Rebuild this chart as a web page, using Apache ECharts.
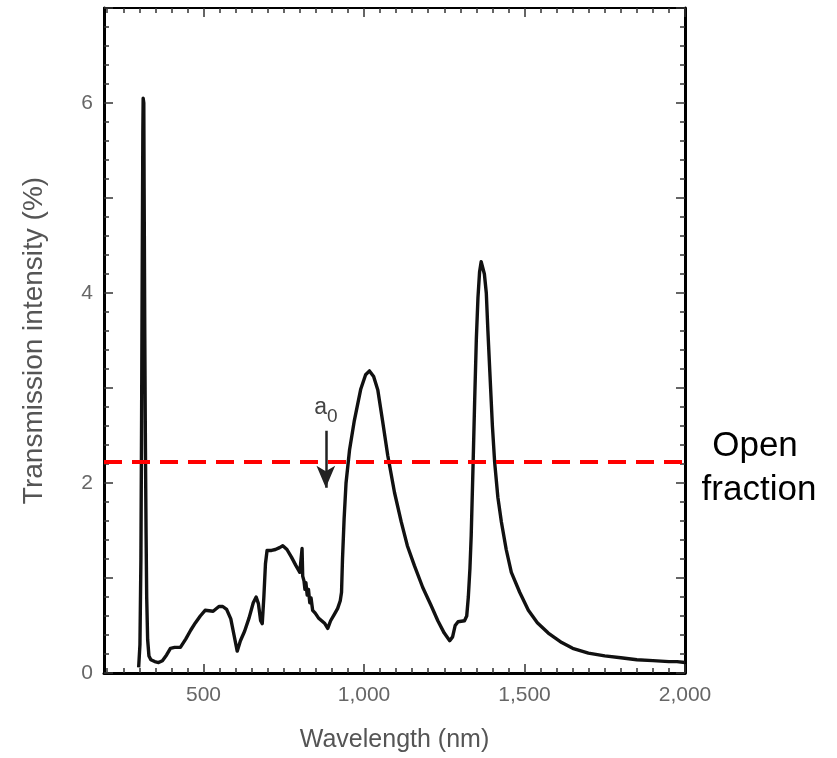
<!DOCTYPE html>
<html>
<head>
<meta charset="utf-8">
<title>Transmission spectrum</title>
<script src="https://cdn.jsdelivr.net/npm/echarts@6/dist/echarts.min.js"></script>
<style>
  html, body { margin: 0; padding: 0; background: #fff; }
  #chart { width: 837px; height: 758px; }
</style>
</head>
<body>
<div id="chart"></div>
<script>
// Transmission spectrum: wavelength (nm) vs transmission intensity (%)
const wavelength = [
  298, 302, 305, 307, 309, 311, 312, 314, 315, 317, 319, 321, 323, 326, 330, 336, 348, 360,
  372, 385, 397, 410, 428, 445, 460, 475, 490, 505, 530, 548, 560, 572, 585, 595, 605, 615,
  628, 642, 655, 664, 671, 678, 683, 688, 693, 698, 712, 724, 737, 747, 760, 774, 788, 800,
  806, 807, 809, 813, 816, 819, 823, 827, 831, 835, 840, 848, 858, 868, 878, 887, 896, 908,
  918, 926, 930, 933, 938, 944, 955, 970, 990, 1005, 1017, 1030, 1043, 1058, 1074, 1095,
  1116, 1135, 1157, 1183, 1209, 1230, 1250, 1267, 1276, 1284, 1293, 1313, 1320, 1325, 1330,
  1334, 1340, 1345, 1350, 1355, 1360, 1365, 1370, 1375, 1381, 1386, 1392, 1400, 1407, 1417,
  1428, 1443, 1459, 1485, 1512, 1540, 1574, 1616, 1650, 1699, 1750, 1800, 1850, 1900, 1950,
  1975, 2000
];
const intensity = [
  0.06, 0.30, 1.20, 2.60, 4.20, 5.70, 6.05, 6.00, 5.10, 3.60, 2.40, 1.50, 0.80, 0.35, 0.18, 0.14, 0.12, 0.11,
  0.13, 0.19, 0.26, 0.27, 0.27, 0.36, 0.45, 0.53, 0.60, 0.66, 0.65, 0.70, 0.70, 0.67, 0.57, 0.40, 0.23, 0.34,
  0.44, 0.58, 0.74, 0.80, 0.73, 0.55, 0.52, 0.80, 1.15, 1.29, 1.29, 1.30, 1.32, 1.34, 1.30, 1.22, 1.13, 1.06,
  1.04, 1.31, 1.02, 0.97, 0.88, 0.95, 0.82, 0.88, 0.74, 0.79, 0.66, 0.63, 0.58, 0.55, 0.52, 0.47, 0.55, 0.62,
  0.68, 0.76, 0.85, 1.20, 1.62, 2.00, 2.35, 2.66, 2.99, 3.14, 3.18, 3.12, 2.98, 2.65, 2.29, 1.90,
  1.59, 1.34, 1.13, 0.90, 0.71, 0.55, 0.42, 0.34, 0.38, 0.50, 0.54, 0.55, 0.60, 0.80, 1.10,
  1.45, 2.22, 2.90, 3.52, 3.95, 4.22, 4.33, 4.32, 4.20, 4.00, 3.60, 3.17, 2.60, 2.22, 1.85,
  1.59, 1.30, 1.06, 0.85, 0.66, 0.53, 0.42, 0.32, 0.26, 0.21, 0.18, 0.16, 0.14, 0.13, 0.12,
  0.12, 0.11
];

// Axis ticks and labels
const xTickLabels = [500, 1000, 1500, 2000];
const xMinorTicks = [];
for (let w = 200; w < 2000; w += 50) { if (w % 500 !== 0) xMinorTicks.push(w); }
const yTickLabels = [0, 2, 4, 6];

// Annotations
const openFraction = 2.22;
const a0Wavelength = 881;
const a0ArrowFrom = 2.55;
const a0ArrowTo = 1.95;
const a0LabelAt = 2.76;

const X_MIN = 190, X_MAX = 2000, Y_MIN = 0, Y_MAX = 7;
const FONT = '"Liberation Sans", Arial, Helvetica, sans-serif';

const fmtThousands = v => String(v).replace(/\B(?=(\d{3})+(?!\d))/g, ',');

function xAxisDef(position, ticks, tickLen, withLine, withLabels) {
  const ax = {
    type: 'value', position: position, min: X_MIN, max: X_MAX,
    splitLine: { show: false },
    axisLine: { show: withLine, onZero: false, lineStyle: { color: '#000', width: position === 'bottom' ? 3 : 2 } },
    axisTick: { show: true, inside: true, length: tickLen, customValues: ticks,
                lineStyle: { color: '#333', width: 1.5 } },
    axisLabel: { show: false }
  };
  if (withLabels) {
    ax.axisLabel = { show: true, customValues: xTickLabels, formatter: v => fmtThousands(v),
                     color: '#666', fontSize: 21, fontFamily: FONT, margin: 12 };
    ax.name = 'Wavelength (nm)';
    ax.nameLocation = 'middle';
    ax.nameGap = 55;
    ax.nameTextStyle = { color: '#555', fontSize: 25, fontFamily: FONT };
  }
  return ax;
}

function yAxisDef(position, withLabels) {
  const ax = {
    type: 'value', position: position, min: Y_MIN, max: Y_MAX, interval: 1,
    splitLine: { show: false },
    axisLine: { show: true, onZero: false, lineStyle: { color: '#000', width: 3 } },
    axisTick: { show: true, inside: true, length: 9, lineStyle: { color: '#333', width: 1.5 } },
    minorTick: { show: true, splitNumber: 5, length: 5, lineStyle: { color: '#333', width: 1.5 } },
    axisLabel: { show: false }
  };
  if (withLabels) {
    ax.axisLabel = { show: true, customValues: yTickLabels, color: '#666', fontSize: 21,
                     fontFamily: FONT, margin: 11 };
    ax.name = 'Transmission intensity (%)';
    ax.nameLocation = 'middle';
    ax.nameGap = 56;
    ax.nameTextStyle = { color: '#555', fontSize: 28, fontFamily: FONT };
  }
  return ax;
}

const chart = echarts.init(document.getElementById('chart'), null, { renderer: 'canvas' });

chart.setOption({
  backgroundColor: '#fff',
  animation: false,
  grid: { left: 104, right: 152, top: 8, bottom: 83, containLabel: false },
  xAxis: [
    xAxisDef('bottom', xTickLabels, 9, true, true),
    xAxisDef('bottom', xMinorTicks, 5, false, false),
    xAxisDef('top', xTickLabels, 9, true, false),
    xAxisDef('top', xMinorTicks, 5, false, false)
  ],
  yAxis: [
    yAxisDef('left', true),
    yAxisDef('right', false)
  ],
  graphic: [
    { type: 'text', x: 755, y: 446, style: { text: 'Open', fill: '#000', font: '35px ' + FONT,
      align: 'center', verticalAlign: 'middle' } },
    { type: 'text', x: 759, y: 490, style: { text: 'fraction', fill: '#000', font: '35px ' + FONT,
      align: 'center', verticalAlign: 'middle' } }
  ],
  series: [{
    type: 'line',
    xAxisIndex: 0, yAxisIndex: 0,
    data: wavelength.map((w, i) => [w, intensity[i]]),
    showSymbol: false, symbol: 'none',
    lineStyle: { color: '#111', width: 3.4, join: 'round' },
    silent: true,
    z: 3,
    markLine: {
      silent: true,
      animation: false,
      label: { show: false },
      data: [
        [
          { coord: [X_MIN, openFraction], symbol: 'none',
            lineStyle: { color: '#ff0000', width: 4, type: [18, 10] } },
          { coord: [X_MAX, openFraction], symbol: 'none' }
        ],
        [
          { coord: [a0Wavelength, a0ArrowFrom], symbol: 'none',
            lineStyle: { color: '#222', width: 2.5, type: 'solid' } },
          { coord: [a0Wavelength, a0ArrowTo], symbol: 'arrow', symbolSize: [14, 22] }
        ]
      ]
    },
    markPoint: {
      silent: true,
      symbol: 'circle', symbolSize: 0,
      data: [{
        coord: [a0Wavelength, a0LabelAt],
        label: {
          show: true, position: 'inside', formatter: '{a|a}{s|0}',
          rich: {
            a: { fontSize: 23, color: '#444', fontFamily: FONT, verticalAlign: 'top', lineHeight: 22 },
            s: { fontSize: 19, color: '#444', fontFamily: FONT, verticalAlign: 'bottom', lineHeight: 30 }
          }
        }
      }]
    }
  }]
});
</script>
</body>
</html>
